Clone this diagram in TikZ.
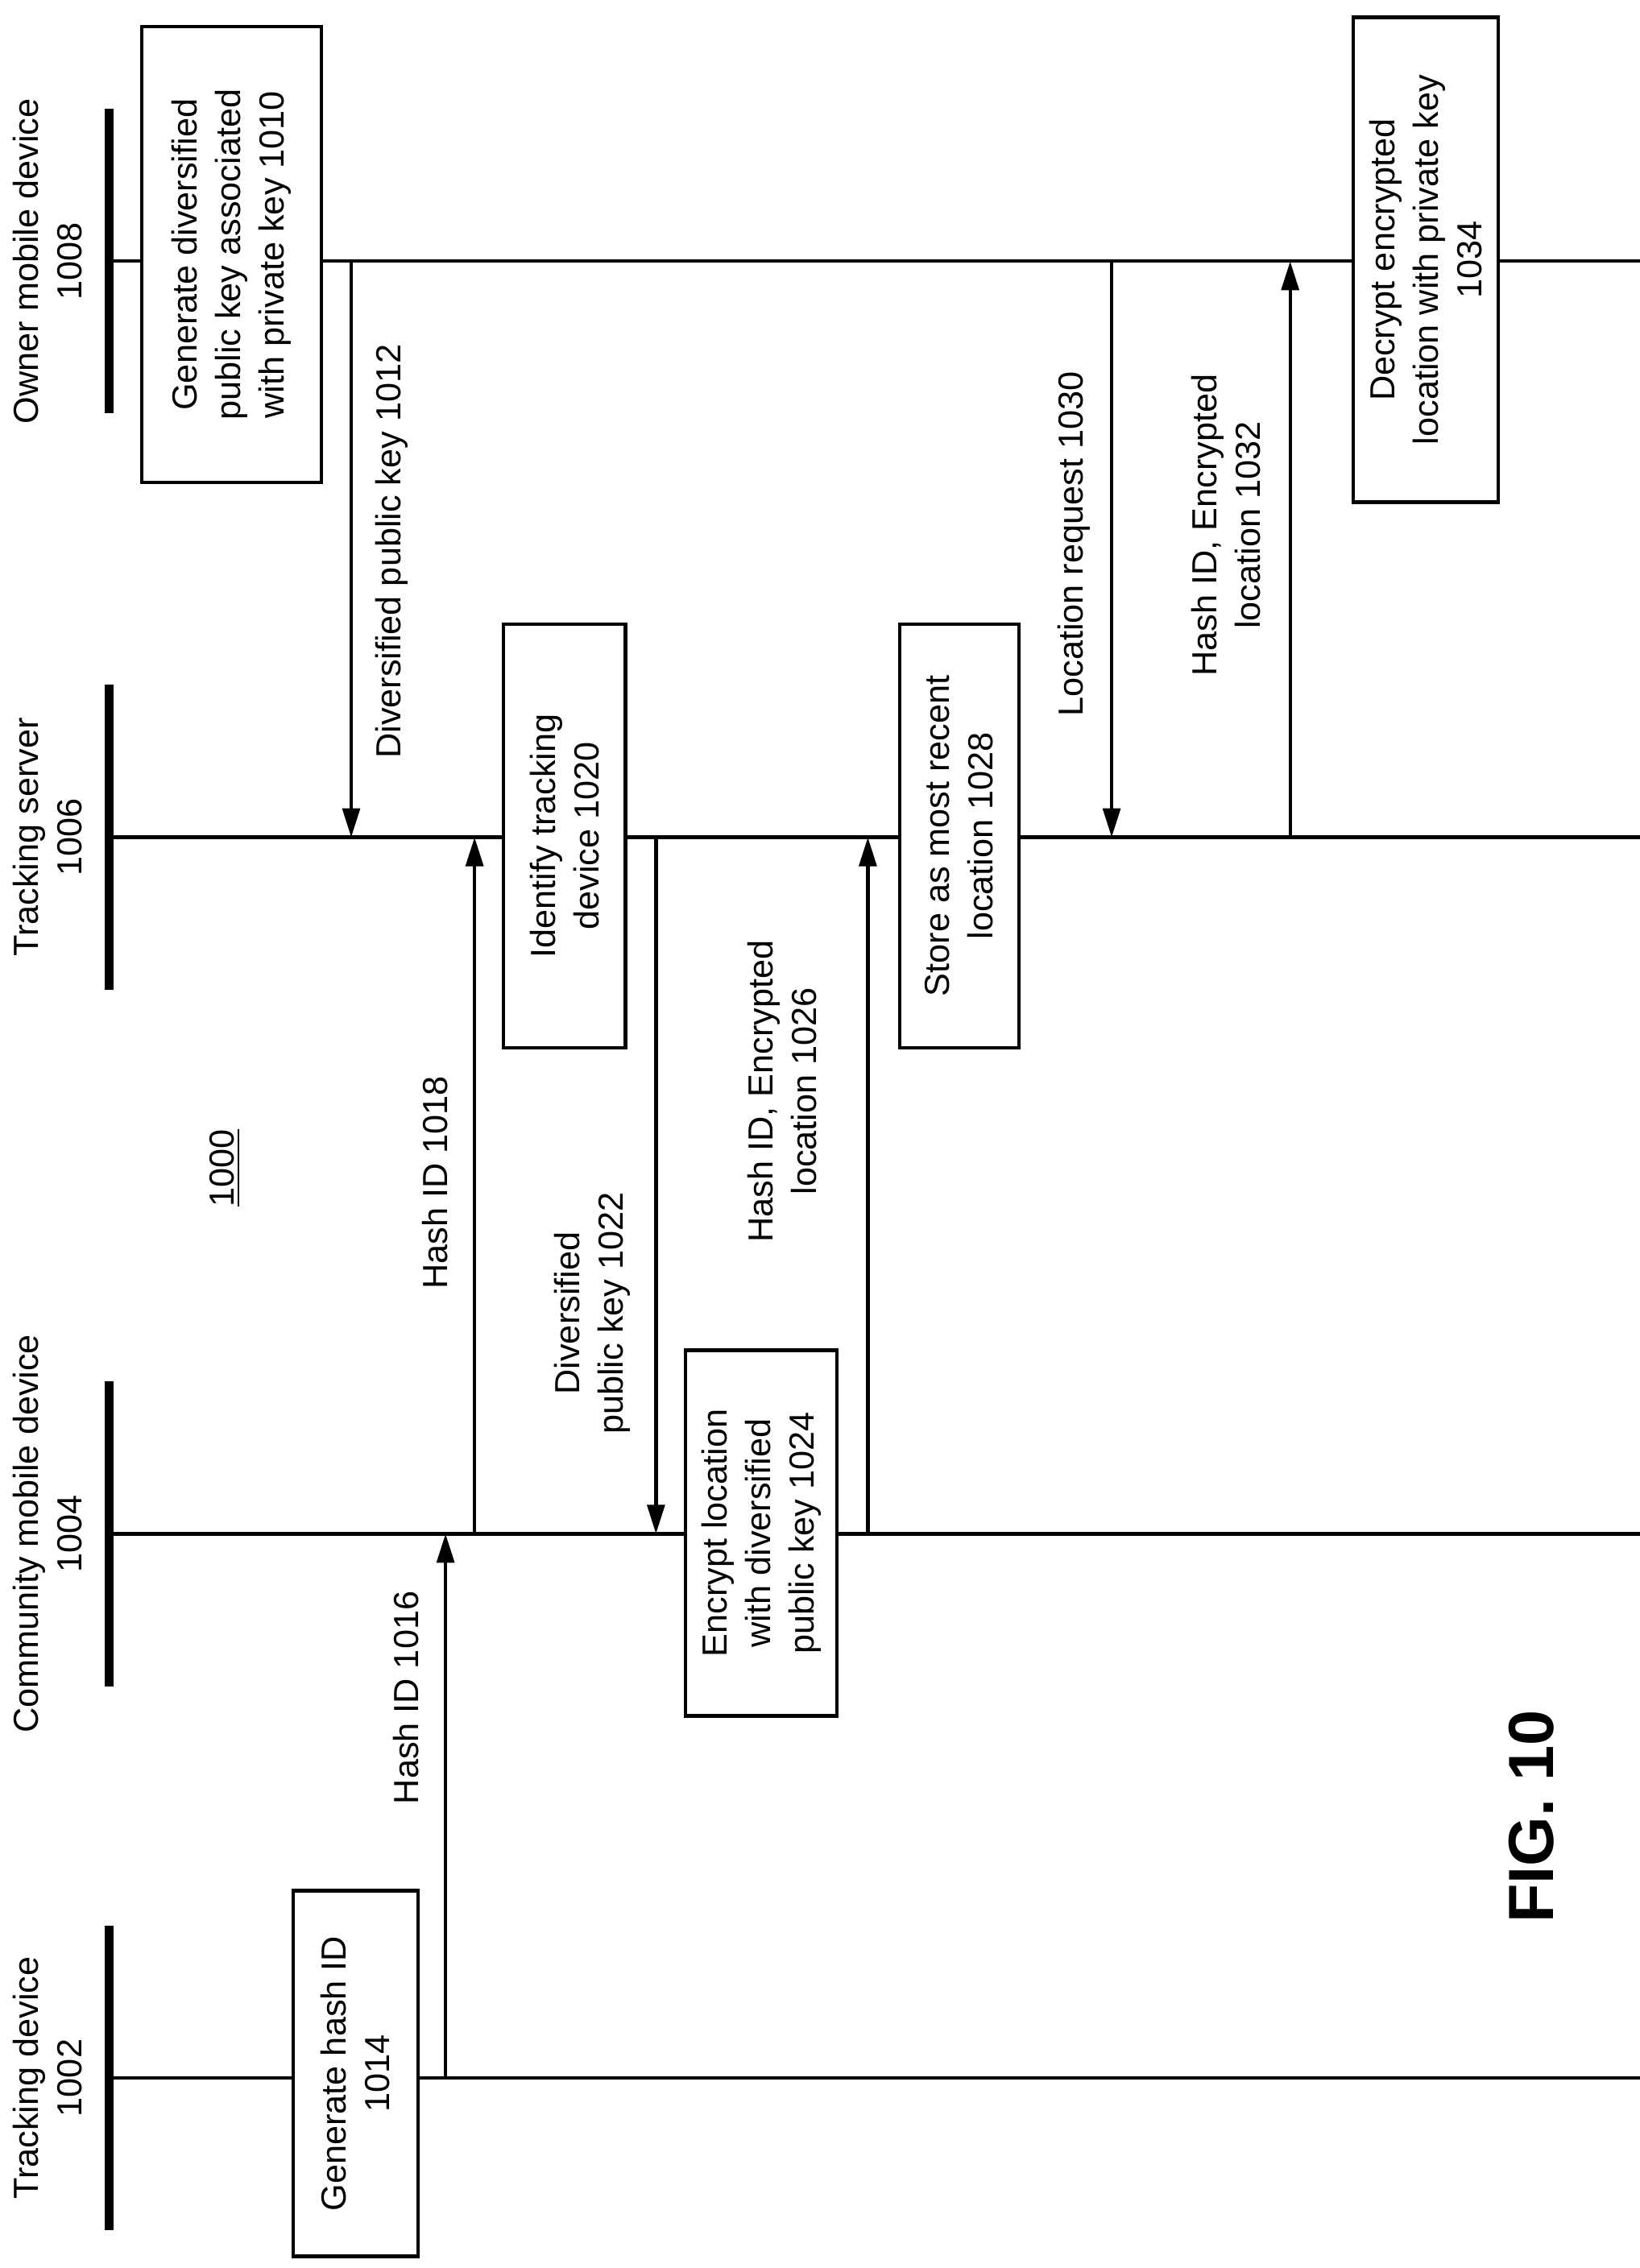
\documentclass[tikz,border=0pt]{standalone}
\usepackage{fontspec}
\setmainfont{Liberation Sans}
\usetikzlibrary{arrows.meta}
\begin{document}
\begin{tikzpicture}[x=0.5pt,y=0.5pt,
  every node/.style={font=\fontsize{12}{15}\selectfont},
  life/.style={line width=1.2pt},
  bar/.style={line width=3pt},
  msg/.style={line width=1.2pt,-{Triangle[length=10pt,width=6pt]}},
  lbl/.style={rotate=90,align=center,inner sep=0pt},
  box/.style={draw,line width=1.2pt,fill=white,rotate=90,align=center,inner sep=2pt}]
\useasboundingbox (0,0) rectangle (1130,-1563);
% lifelines
\foreach \n/\y/\t in {own/180/{Owner mobile device\\1008},srv/577/{Tracking server\\1006},com/1057/{Community mobile device\\1004},trk/1432/{Tracking device\\1002}}{
  \coordinate (\n L) at (75,-\y);
  \coordinate (\n R) at (1130,-\y);
  \draw[life] (\n L) -- (\n R);
  \draw[bar] (75,-\y+105) -- (75,-\y-105);
  \node[lbl] (\n T) at (33,-\y) {\t};
}
% boxes
\node[box,minimum width=157pt,minimum height=62pt] (b1010) at (159.5,-175.5) {Generate diversified\\public key associated\\with private key 1010};
\node[box,minimum width=146pt,minimum height=42pt] (b1020) at (389,-576) {Identify tracking\\device 1020};
\node[box,minimum width=146pt,minimum height=41pt] (b1028) at (661,-576) {Store as most recent\\location 1028};
\node[box,minimum width=167pt,minimum height=50pt] (b1034) at (982.5,-179) {Decrypt encrypted\\location with private key\\1034};
\node[box,minimum width=126pt,minimum height=52pt] (b1024) at (524.5,-1056.5) {Encrypt location\\with diversified\\public key 1024};
\node[box,minimum width=126pt,minimum height=43pt] (b1014) at (245,-1429) {Generate hash ID\\1014};
% message coordinates
\coordinate (a1) at (242,-180); \coordinate (a2) at (242,-577);
\coordinate (c1) at (307,-1432); \coordinate (c2) at (307,-1057);
\coordinate (d1) at (327,-1057); \coordinate (d2) at (327,-577);
\coordinate (e1) at (452,-577); \coordinate (e2) at (452,-1057);
\coordinate (f1) at (598,-1057); \coordinate (f2) at (598,-577);
\coordinate (g1) at (766,-180); \coordinate (g2) at (766,-577);
\coordinate (h1) at (889,-577); \coordinate (h2) at (889,-180);
\draw[msg] (a1) -- (a2);
\draw[msg] (c1) -- (c2);
\draw[msg] (d1) -- (d2);
\draw[msg] (e1) -- (e2);
\draw[msg] (f1) -- (f2);
\draw[msg] (g1) -- (g2);
\draw[msg] (h1) -- (h2);
% labels
\node[lbl] (l1012) at (270,-380) {Diversified public key 1012};
\node[lbl] (l1016) at (280,-1170) {Hash ID 1016};
\node[lbl] (l1018) at (300,-815) {Hash ID 1018};
\node[lbl] (l1022) at (408,-905) {Diversified\\public key 1022};
\node[lbl] (l1026) at (539,-752) {Hash ID, Encrypted\\location 1026};
\node[lbl] (l1030) at (740,-375) {Location request 1030};
\node[lbl] (l1032) at (845,-362) {Hash ID, Encrypted\\location 1032};
\node[lbl] (l1000) at (155,-805) {\underline{1000}};
\node[lbl,font=\bfseries\fontsize{22}{26}\selectfont] (fig) at (1055,-1252) {FIG. 10};
\end{tikzpicture}
\end{document}
